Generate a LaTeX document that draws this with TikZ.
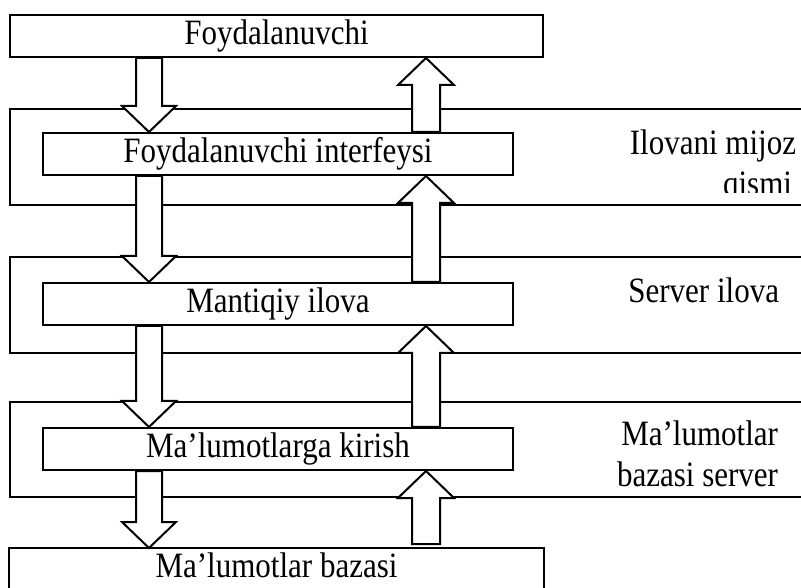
\documentclass[tikz,border=0pt]{standalone}
\usepackage{fontspec}
\setmainfont{Liberation Serif}
\usepackage{graphicx}
\usepackage{tikz}
\usetikzlibrary{calc}

% text is a little taller than wide in the picture
\newcommand{\tl}[1]{\scalebox{1}[1.15]{#1}}

% block arrows between two anchors, at a given x
\newcommand{\fatdown}[3]{%
  \draw[fat] let \p1=(#1), \p2=(#2) in
    (#3pt-13pt,\y1) -- (#3pt-13pt,\y2+26pt) -- (#3pt-27pt,\y2+26pt) -- (#3pt,\y2)
    -- (#3pt+27pt,\y2+26pt) -- (#3pt+13pt,\y2+26pt) -- (#3pt+13pt,\y1) -- cycle;}
\newcommand{\fatup}[3]{%
  \draw[fat] let \p1=(#1), \p2=(#2) in
    (#3pt-14pt,\y1) -- (#3pt-14pt,\y2-27pt) -- (#3pt-28pt,\y2-27pt) -- (#3pt,\y2)
    -- (#3pt+28pt,\y2-27pt) -- (#3pt+14pt,\y2-27pt) -- (#3pt+14pt,\y1) -- cycle;}

\begin{document}
\begin{tikzpicture}[x=1pt, y=1pt, line width=2pt,
    font=\fontsize{31}{41}\selectfont,
    box/.style={rectangle, draw, fill=white, minimum height=42pt, inner sep=0pt,
      text height=23pt, text depth=5pt},
    fat/.style={draw, fill=white, line join=miter},
    lbl/.style={anchor=base east, inner sep=0pt}]

    \useasboundingbox (0,0) rectangle (801,587);

    % Layers (open to the right)
    \draw (801,478) -- (10,478) -- (10,382) -- (801,382);
    \draw (801,330) -- (10,330) -- (10,234) -- (801,234);
    \draw (801,185) -- (10,185) -- (10,90) -- (801,90);

    % Boxes
    \node[box, minimum width=533pt] (user) at (276.5,551) {\tl{Foydalanuvchi}};
    \node[box, minimum width=470pt] (ui) at (278,433) {\tl{Foydalanuvchi interfeysi}};
    \node[box, minimum width=470pt] (logic) at (278,283) {\tl{Mantiqiy ilova}};
    \node[box, minimum width=470pt] (access) at (278,138) {\tl{Ma’lumotlarga kirish}};
    % last box runs off the bottom edge
    \node[box, draw=none, minimum width=533pt, minimum height=38pt] (db) at (276.5,19) {\tl{Ma’lumotlar bazasi}};
    \draw (db.south west) -- (db.north west) -- (db.north east) -- (db.south east);

    % Layer names
    \node[lbl] (client) at (797,432) {\tl{Ilovani mijoz}};
    \begin{scope}
      \clip (600,394) rectangle (801,420);
      \node[lbl] (clientb) at (793,391) {\tl{qismi}};
    \end{scope}
    \node[lbl] (server) at (780,284) {\tl{Server ilova}};
    \node[lbl] (dbsrv) at (779,141) {\tl{Ma’lumotlar}};
    \node[lbl] (dbsrvb) at (779,100) {\tl{bazasi server}};

    % Requests down, answers up
    \fatdown{user.south}{ui.north}{149}
    \fatup{ui.north}{user.south}{426}
    \fatdown{ui.south}{logic.north}{149}
    \fatup{logic.north}{ui.south}{426}
    \fatdown{logic.south}{access.north}{149}
    \fatup{access.north}{logic.south}{426}
    \fatdown{access.south}{db.north}{149}
    \fatup{[yshift=4pt]db.north}{access.south}{426}
\end{tikzpicture}
\end{document}
